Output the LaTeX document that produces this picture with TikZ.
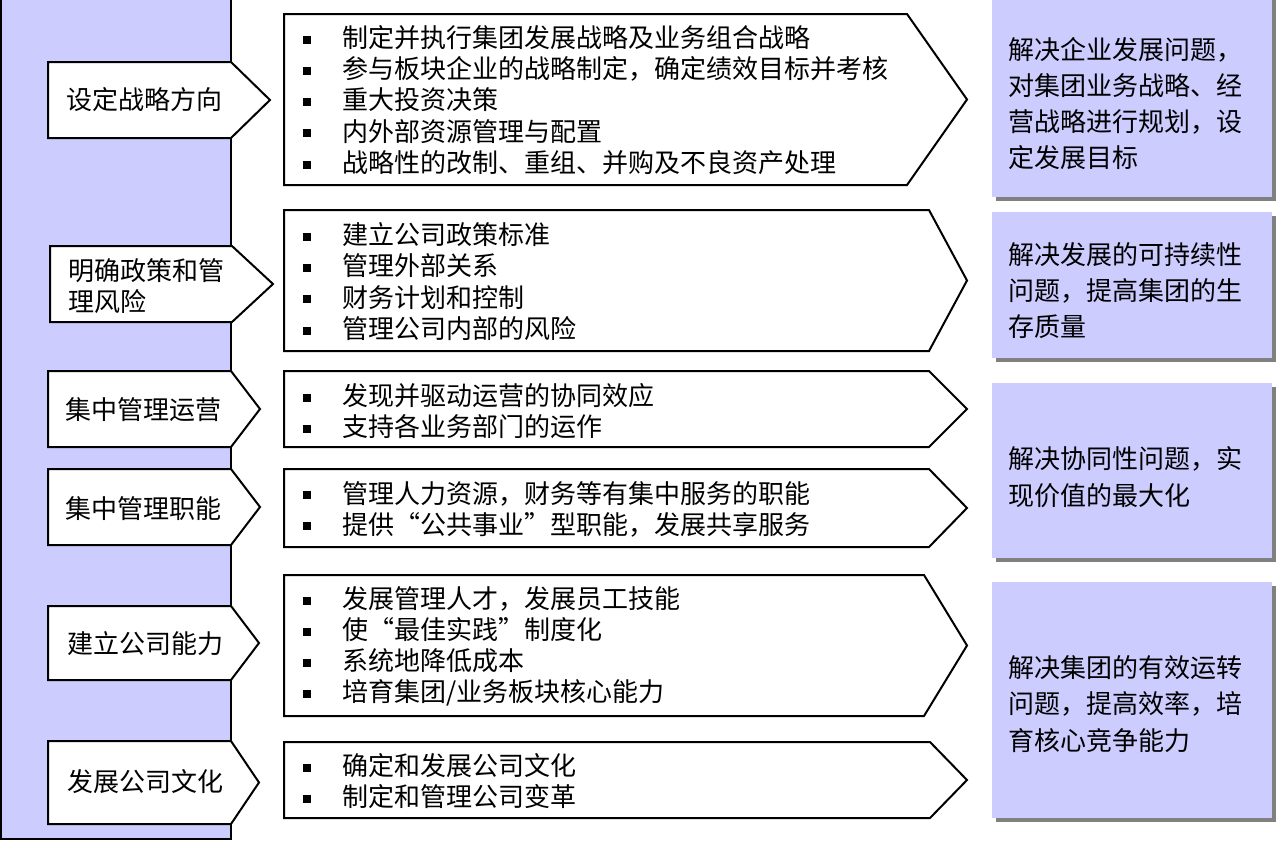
\documentclass[tikz,border=0pt]{standalone}
\usepackage{fontspec}
\setmainfont{Noto Sans CJK SC}
\definecolor{lav}{RGB}{204,204,255}
\definecolor{shad}{RGB}{128,128,128}
\newcommand\bul{\makebox[29.25pt][l]{\rule[2.8pt]{6pt}{6pt}}}
\newcommand\oq{\makebox[1em][r]{“}}
\newcommand\cq{\makebox[1em][l]{”}}
\newcommand\pent[5]{\draw[penta] (#1,#4) -- (#2,#4) -- (#3,{(#4+#5)/2}) -- (#2,#5) -- (#1,#5) -- cycle;}
\newcommand\rbox[2]{\fill[shad] (996,#1+4) rectangle (1276,#2+4); \fill[lav] (992,#1) rectangle (1272,#2);}
\begin{document}
\begin{tikzpicture}[x=0.75pt,y=-0.75pt,
  penta/.style={draw=black,fill=white,line width=1.5pt,line join=miter},
  bar/.style={draw=black,fill=lav,line width=1.5pt},
  ltxt/.style={anchor=west,inner sep=0pt,align=left,font=\fontsize{19.5pt}{23.3pt}\selectfont},
  mtxt/.style={anchor=west,inner sep=0pt,align=left,font=\fontsize{19.5pt}{23.4pt}\selectfont},
  rtxt/.style={anchor=west,inner sep=0pt,align=left,font=\fontsize{19.5pt}{27.2pt}\selectfont}]
\useasboundingbox (0,0) rectangle (1280,843);
% left bar
\draw[bar] (1,-5) rectangle (231,839);
% left pentagons
\pent{48}{231}{270}{62}{138}
\pent{50}{232}{273}{246}{322}
\pent{48}{231}{260}{371}{447}
\pent{48}{231}{260}{469}{545}
\pent{48}{231}{259}{606}{680}
\pent{48}{231}{259}{741}{824}
% middle pentagons
\pent{284}{907}{967}{14}{185}
\pent{284}{929}{967}{210}{351}
\pent{284}{929}{967}{371}{447}
\pent{284}{929}{967}{469}{547}
\pent{284}{924}{967}{575}{716}
\pent{284}{930}{967}{742}{818}
% right boxes
\rbox{-5}{197}
\rbox{212}{358}
\rbox{383}{558}
\rbox{582}{818}
% left texts
\node[ltxt] (l1) at (66,100) {设定战略方向};
\node[ltxt] (l2) at (68,286.5) {明确政策和管\\理风险};
\node[ltxt] (l3) at (65,410) {集中管理运营};
\node[ltxt] (l4) at (65,509) {集中管理职能};
\node[ltxt] (l5) at (67,643.5) {建立公司能力};
\node[ltxt] (l6) at (67,782) {发展公司文化};
% middle texts
\node[mtxt] (m1) at (303,100) {\bul 制定并执行集团发展战略及业务组合战略\\\bul 参与板块企业的战略制定，确定绩效目标并考核\\\bul 重大投资决策\\\bul 内外部资源管理与配置\\\bul 战略性的改制、重组、并购及不良资产处理};
\node[mtxt] (m2) at (303,281.5) {\bul 建立公司政策标准\\\bul 管理外部关系\\\bul 财务计划和控制\\\bul 管理公司内部的风险};
\node[mtxt] (m3) at (303,411) {\bul 发现并驱动运营的协同效应\\\bul 支持各业务部门的运作};
\node[mtxt] (m4) at (303,509) {\bul 管理人力资源，财务等有集中服务的职能\\\bul 提供\oq 公共事业\cq 型职能，发展共享服务};
\node[mtxt] (m5) at (303,646.5) {\bul 发展管理人才，发展员工技能\\\bul 使\oq 最佳实践\cq 制度化\\\bul 系统地降低成本\\\bul 培育集团/业务板块核心能力};
\node[mtxt] (m6) at (303,781) {\bul 确定和发展公司文化\\\bul 制定和管理公司变革};
% right texts
\node[rtxt] (r1) at (1008,103.5) {解决企业发展问题，\\对集团业务战略、经\\营战略进行规划，设\\定发展目标};
\node[rtxt] (r2) at (1008,290.5) {解决发展的可持续性\\问题，提高集团的生\\存质量};
\node[rtxt] (r3) at (1008,477) {解决协同性问题，实\\现价值的最大化};
\node[rtxt] (r4) at (1008,704) {解决集团的有效运转\\问题，提高效率，培\\育核心竞争能力};
\end{tikzpicture}
\end{document}
